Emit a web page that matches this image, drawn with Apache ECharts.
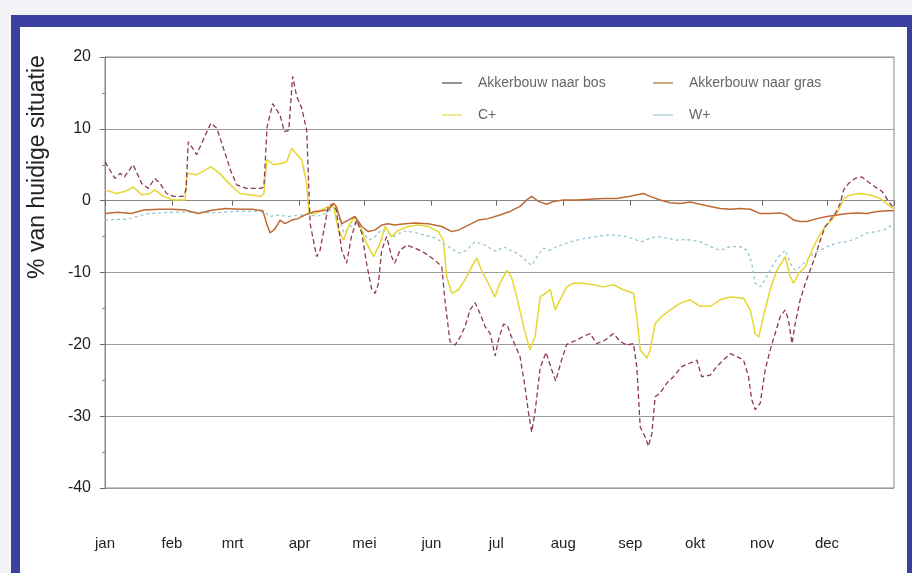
<!DOCTYPE html>
<html>
<head>
<meta charset="utf-8">
<script src="https://cdn.jsdelivr.net/npm/echarts@6/dist/echarts.min.js"></script>
<style>
html,body{margin:0;padding:0;background:#f3f3f7;}
#c{width:912px;height:573px;}
</style>
</head>
<body>
<div id="c"></div>
<script>
// ---- axis data ----
const monthLabels = ['jan','feb','mrt','apr','mei','jun','jul','aug','sep','okt','nov','dec'];
const monthStarts = [0,31,59,90,120,151,181,212,243,273,304,334];
const tickDays = [0,31,59,90,120,151,181,212,243,304,334,365];
const yMin = -40, yMax = 20, yStep = 10;

// ---- series: Akkerbouw naar bos ----
const bosDays = [0,4.6,7,9,13,17,20,23,25.5,28.5,31.6,36,37.5,38.5,41,42.4,44,49,51.7,55,58,61,65.5,72,73.5,75,77.6,81,83,85,86.8,88.7,91,93.3,94.9,97.9,99.5,101.8,103.3,105.7,107,109.5,111.8,114,116.4,118.8,121,123.4,125,126.5,128,130.3,132.6,134,136.5,139.6,143.4,148,152.7,155.8,157.3,159.6,162,164.3,166.6,168.9,171.2,173.5,175.8,178.2,180.5,182,184.3,186,188,192,194.3,195.9,197.4,199,201.3,204,206.5,208.5,211,213.6,218.3,221.3,224.4,227.5,231.4,235.2,238.3,241.4,244.5,246,247.6,249.9,251.4,253,254.5,256.8,259.9,263,266.8,270.7,273.8,276,280,283,286,289.2,292.3,295.4,297.7,299.2,300.8,303.1,305.4,307.7,310,312.4,314.7,316.2,317.8,319.3,321.6,324,326.2,328.5,330.9,333.2,335.5,337.8,340.1,341.7,344,347,350.1,353.2,356.3,359.4,363.2,365];
const bosValues = [5.4,3.1,3.8,3.3,5.0,2.4,1.7,3.1,2.4,1.0,0.6,0.6,1.5,8.2,7.1,6.4,7.5,10.8,10.1,7.1,4.3,2.2,1.7,1.7,1.9,10.3,13.5,11.9,9.6,9.8,17.3,14.5,12.9,9.8,-3.2,-7.8,-6.9,-3.2,-0.8,-0.4,-1.3,-6.9,-8.7,-5.0,-2.7,-4.5,-8.7,-12.4,-12.9,-11.5,-6.9,-5.0,-7.8,-8.7,-6.9,-6.2,-6.6,-7.3,-8.3,-9.2,-14.0,-19.6,-20.1,-19.0,-17.5,-15.2,-14.2,-15.7,-17.5,-18.5,-21.6,-19.4,-17.2,-17.3,-18.9,-21.7,-25.9,-29.5,-32.2,-29.3,-23.3,-21.1,-23.4,-25.1,-22.4,-20.0,-19.4,-18.9,-18.5,-19.9,-19.4,-18.5,-19.6,-20.1,-19.9,-23.1,-31.5,-32.9,-34.2,-32.4,-27.3,-26.8,-25.4,-24.5,-23.1,-22.6,-22.2,-24.5,-24.3,-23.1,-22.2,-21.3,-21.7,-22.2,-24.5,-27.7,-29.1,-28.2,-23.6,-20.8,-18.5,-16.1,-15.2,-16.6,-19.9,-17.1,-13.8,-11.5,-9.7,-7.8,-5.5,-3.6,-2.7,-1.8,-0.4,1.5,2.4,3.1,3.3,2.6,1.9,1.3,-0.4,-1.0];

// ---- series: Akkerbouw naar gras ----
const grasDays = [0,6,12,18,25,31,37,43,50,56,62,68,73,74.8,76.4,78.7,81,83.3,86.4,89.5,91,94,97,100.3,103.3,105.7,107,109.5,112.6,115.6,118.8,121.8,124.8,128,131,134,138.8,143.4,149.6,155.8,160.4,163.5,168.1,172.7,177.3,182.7,187.4,192,195.1,197.4,200.5,204.4,207.5,212.1,218.3,224.4,230.5,236.7,242.9,249,252.2,256.8,261.5,266,270.7,275.3,280,284.6,289.2,293.9,298.5,303.1,307.7,312.4,315.5,318.6,321.6,324.7,329.3,334,338.6,343.3,347.9,352.5,357.1,361.7,365];
const grasValues = [-1.8,-1.6,-1.8,-1.3,-1.2,-1.2,-1.3,-1.8,-1.3,-1.1,-1.2,-1.2,-1.4,-3.2,-4.5,-3.9,-2.7,-3.2,-2.7,-2.5,-2.2,-1.8,-1.5,-1.4,-1.3,-0.4,-0.8,-3.2,-2.7,-2.2,-3.6,-4.3,-4.1,-3.4,-3.2,-3.4,-3.2,-3.1,-3.2,-3.6,-4.3,-4.1,-3.4,-2.7,-2.5,-2.0,-1.5,-0.8,0.1,0.6,-0.1,-0.5,-0.1,0.1,0.1,0.2,0.3,0.3,0.6,1.0,0.6,0.1,-0.3,-0.4,-0.2,-0.5,-0.8,-1.1,-1.2,-1.1,-1.2,-1.8,-1.8,-1.7,-2.0,-2.7,-2.9,-2.9,-2.5,-2.2,-2.0,-1.8,-1.7,-1.8,-1.5,-1.4,-1.4];

// ---- series: C+ ----
const cDays = [0,5.4,9.3,13.1,17,20.8,23,27,31.6,37,38,42.4,49,53,58,62.5,72,73.5,74.8,78,81.8,84,86.4,88.5,91,93.3,94.4,97.2,100.3,103.3,105.7,108,110.3,112.6,115.6,118,121,124.2,127.3,129.6,132.6,135.8,140.4,145,149.6,154.2,156.5,158.1,160.4,163.5,166.6,169.6,172,174.2,177.3,180.4,182.7,185.9,188,190.5,193.6,196.6,199,201.3,203.6,206,208.2,210.5,213.6,216.7,221.3,225.9,230.5,235.2,239.8,244.5,246,247.6,250.7,252.2,254.5,257.6,261.5,266,270.7,275.3,280,284.6,289.2,295.4,298.5,300.8,302.4,304.6,307.7,310.8,314.7,317,318.6,320.9,324,327,330.1,333.2,336.3,339.4,341.7,344.8,349.4,354,358.6,363.2,365];
const cValues = [1.5,1.0,1.3,1.9,0.8,1.0,1.5,0.6,0.1,0.1,3.8,3.6,4.7,3.8,2.2,1.0,0.6,1.0,5.7,5.0,5.2,5.4,7.3,6.5,5.7,2.4,-1.8,-1.8,-1.3,-0.8,-0.8,-4.1,-5.5,-3.6,-2.2,-3.6,-5.9,-7.8,-5.9,-3.6,-5.0,-4.1,-3.6,-3.4,-3.6,-4.3,-5.5,-10.6,-12.9,-12.4,-11.0,-9.2,-8.0,-9.7,-11.5,-13.4,-11.5,-9.7,-10.6,-13.4,-17.5,-20.8,-18.9,-13.4,-12.9,-12.4,-15.2,-13.8,-12.0,-11.5,-11.5,-11.7,-12.0,-11.7,-12.4,-12.9,-16.1,-20.8,-21.9,-20.8,-17.1,-16.1,-15.2,-14.3,-13.8,-14.7,-14.7,-13.8,-13.4,-13.6,-15.2,-18.5,-19.0,-16.1,-12.4,-9.7,-7.8,-10.6,-11.5,-10.1,-9.2,-6.9,-5.0,-3.6,-2.7,-1.3,0.3,0.8,1.0,0.8,0.3,-0.8,-1.2];

// ---- series: W+ ----
const wDays = [0,5,10,15,20,30,40,50,60,70,74,76,80,85,90,94,98,102,105.7,108,110.5,113,116,119,122,125,128,131,134,138,143,148,153,156,159,163.5,167.3,171.2,175.8,178,181.2,184.3,187.4,190.5,193.6,195.9,197.4,199.8,202.8,205.9,209,213.6,218.3,222.9,227.5,232.2,236.8,241.4,246,249,252.2,255.3,259.9,264.5,269.2,275.3,280,284.6,289.2,293.9,297,299.2,300.8,303.1,305.4,308.5,311.6,314.7,317,319.3,321.6,324.7,327.8,330.9,334,338.6,343.3,347.9,352.5,357.1,361.7,365];
const wValues = [-2.7,-2.6,-2.6,-2.2,-1.8,-1.6,-1.6,-1.7,-1.5,-1.5,-1.6,-2.2,-2.0,-2.2,-2.0,-1.9,-2.2,-1.8,-1.0,-2.0,-4.5,-3.8,-3.0,-4.2,-5.5,-5.0,-4.0,-4.5,-5.0,-4.2,-4.4,-4.8,-5.2,-5.8,-6.4,-7.3,-6.9,-5.7,-6.2,-6.6,-7.1,-6.4,-6.9,-7.3,-8.0,-8.7,-9.0,-7.8,-6.6,-6.9,-6.4,-5.9,-5.5,-5.2,-5.0,-4.8,-4.8,-5.0,-5.5,-5.7,-5.2,-5.0,-5.2,-5.5,-5.4,-5.7,-6.4,-6.9,-6.4,-6.4,-6.9,-8.7,-11.5,-12.0,-11.0,-9.2,-7.8,-6.9,-8.7,-9.7,-9.2,-8.3,-7.3,-6.9,-6.4,-5.9,-5.7,-5.2,-4.5,-4.3,-3.9,-3.2];

const pair = (ds, vs) => ds.map((d, i) => [d, vs[i]]);
const FONT = "'Liberation Sans', Arial, Helvetica, sans-serif";

const chart = echarts.init(document.getElementById('c'), null, {renderer: 'canvas'});

const legendBase = {
  orient: 'horizontal', icon: 'rect', itemWidth: 20, itemHeight: 1.5, itemGap: 0,
  textStyle: {fontFamily: FONT, fontSize: 14, color: '#666', padding: [0, 0, 0, 11]},
  selectedMode: false
};

chart.setOption({
  backgroundColor: 'transparent',
  animation: false,
  graphic: [
    {type: 'rect', z: -10, shape: {x: 11, y: 15, width: 901, height: 560}, style: {fill: '#3a40a0'}},
    {type: 'rect', z: -9, shape: {x: 20, y: 27, width: 887, height: 548}, style: {fill: '#ffffff'}},
    {type: 'text', z: 10, x: 38, y: 167, rotation: Math.PI / 2,
      style: {text: '% van huidige situatie', fontFamily: FONT, fontSize: 23, fill: '#222',
        textAlign: 'center', textVerticalAlign: 'middle'}}
  ],
  legend: [
    Object.assign({}, legendBase, {left: 437, top: 71, data: ['Akkerbouw naar bos']}),
    Object.assign({}, legendBase, {left: 648, top: 71, data: ['Akkerbouw naar gras']}),
    Object.assign({}, legendBase, {left: 437, top: 103, data: ['C+']}),
    Object.assign({}, legendBase, {left: 648, top: 103, data: ['W+']})
  ],
  grid: {left: 105, right: 18, top: 57, bottom: 85, show: true, borderColor: '#888', borderWidth: 1, backgroundColor: 'transparent'},
  xAxis: {
    type: 'value', min: 0, max: 365,
    axisLine: {show: true, lineStyle: {color: '#888', width: 1}},
    axisTick: {show: true, customValues: tickDays, length: 5, lineStyle: {color: '#666'}},
    splitLine: {show: false},
    axisLabel: {
      customValues: monthStarts, margin: 48, fontFamily: FONT, fontSize: 15, color: '#222',
      formatter: v => monthLabels[monthStarts.indexOf(v)] || ''
    }
  },
  yAxis: {
    type: 'value', min: yMin, max: yMax, interval: yStep,
    axisLine: {show: true, lineStyle: {color: '#888', width: 1}},
    axisTick: {show: true, length: 5, lineStyle: {color: '#666'}},
    minorTick: {show: true, splitNumber: 2, length: 3, lineStyle: {color: '#888'}},
    splitLine: {show: true, lineStyle: {color: ['#9a9a9a','#9a9a9a','#9a9a9a','#9a9a9a','#d6d6d6','#9a9a9a','#9a9a9a'], width: 1}},
    axisLabel: {margin: 14, fontFamily: FONT, fontSize: 16, color: '#222'}
  },
  series: [
    {name: 'W+', type: 'line', symbol: 'none', data: pair(wDays, wValues), z: 2,
      lineStyle: {color: '#8ec3cf', width: 1.2, type: [3, 3]}, itemStyle: {color: '#b5d6dd'}},
    {name: 'C+', type: 'line', symbol: 'none', data: pair(cDays, cValues), z: 3,
      lineStyle: {color: '#e6d632', width: 1.5}, itemStyle: {color: '#ecdf6a'}},
    {name: 'Akkerbouw naar bos', type: 'line', symbol: 'none', data: pair(bosDays, bosValues), z: 4,
      lineStyle: {color: '#8e3a4c', width: 1.3, type: [5, 3]}, itemStyle: {color: '#6f6a6e'}},
    {name: 'Akkerbouw naar gras', type: 'line', symbol: 'none', data: pair(grasDays, grasValues), z: 5,
      lineStyle: {color: '#bf6a34', width: 1.5}, itemStyle: {color: '#c08a50'}}
  ]
});
</script>
</body>
</html>
